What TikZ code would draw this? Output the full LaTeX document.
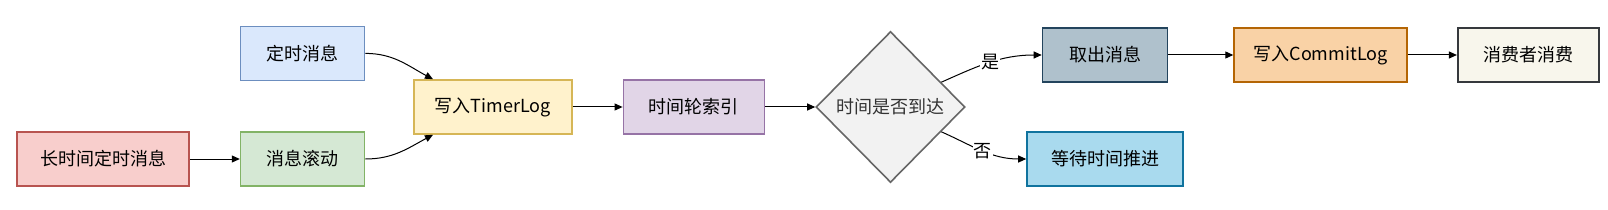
\documentclass[tikz,border=0pt]{standalone}
\usepackage{fontspec}
\setmainfont{Noto Sans CJK SC}
\usepackage{xcolor}
\usepackage{tikz}
\usetikzlibrary{arrows.meta,positioning,shapes.geometric}

\definecolor{redfill}{HTML}{F8CECC}
\definecolor{redline}{HTML}{B85450}
\definecolor{bluefill}{HTML}{DAE8FC}
\definecolor{blueline}{HTML}{6C8EBF}
\definecolor{greenfill}{HTML}{D5E8D4}
\definecolor{greenline}{HTML}{82B366}
\definecolor{yellowfill}{HTML}{FFF2CC}
\definecolor{yellowline}{HTML}{D6B656}
\definecolor{purplefill}{HTML}{E1D5E7}
\definecolor{purpleline}{HTML}{9673A6}
\definecolor{greyfill}{HTML}{F2F2F2}
\definecolor{greyline}{HTML}{666666}
\definecolor{greytext}{HTML}{333333}
\definecolor{slatefill}{HTML}{AFC1CC}
\definecolor{slateline}{HTML}{23445D}
\definecolor{skyfill}{HTML}{A9DAEE}
\definecolor{skyline}{HTML}{10739E}
\definecolor{orangefill}{HTML}{F9D2A6}
\definecolor{orangeline}{HTML}{B46504}
\definecolor{creamfill}{HTML}{F8F6EC}
\definecolor{creamline}{HTML}{36393D}

\begin{document}
\begin{tikzpicture}[x=1pt,y=1pt,
  box/.style={draw,line width=1.6pt,minimum height=54pt,inner sep=0pt,font=\fontsize{18}{21}\selectfont},
  flow/.style={line width=1pt,-{Triangle[length=8pt,width=7pt]}},
  tag/.style={fill=white,inner sep=1pt,font=\fontsize{18}{21}\selectfont}]
\useasboundingbox (0,0) rectangle (1608,209);

\node[box,fill=redfill,draw=redline,minimum width=172pt] (long) at (103,50) {长时间定时消息};
\node[box,fill=greenfill,draw=greenline,minimum width=124pt,right=50pt of long] (roll) {消息滚动};
\node[box,fill=bluefill,draw=blueline,minimum width=124pt,above=50pt of roll] (timed) {定时消息};
\node[box,fill=yellowfill,draw=yellowline,minimum width=158pt,anchor=west] (timerlog) at (413,102) {写入TimerLog};
\node[box,fill=purplefill,draw=purpleline,minimum width=141pt,right=50pt of timerlog] (wheel) {时间轮索引};
\node[diamond,draw=greyline,fill=greyfill,line width=1.6pt,text=greytext,inner sep=0pt,
  minimum width=149pt,minimum height=151pt,font=\fontsize{18}{21}\selectfont,right=50pt of wheel] (due) {时间是否到达};
\node[box,fill=slatefill,draw=slateline,minimum width=125pt] (fetch) at (1105,154) {取出消息};
\node[box,fill=skyfill,draw=skyline,minimum width=156pt] (wait) at (1105,50) {等待时间推进};
\node[box,fill=orangefill,draw=orangeline,minimum width=173pt,right=65pt of fetch] (commitlog) {写入CommitLog};
\node[box,fill=creamfill,draw=creamline,minimum width=141pt,right=49pt of commitlog] (consume) {消费者消费};

\draw[flow] (long)--(roll);
\draw[flow] (timed.east) to[out=0,in=152] ([xshift=20pt]timerlog.north west);
\draw[flow] (roll.east) to[out=0,in=208] ([xshift=20pt]timerlog.south west);
\draw[flow] (timerlog)--(wheel);
\draw[flow] (wheel)--(due);
\draw[flow] (due.26) to[out=24,in=180] node[tag,pos=0.5] {是} (fetch.west);
\draw[flow] (due.-26) to[out=-24,in=180] node[tag,pos=0.5] {否} (wait.west);
\draw[flow] (fetch)--(commitlog);
\draw[flow] (commitlog)--(consume);
\end{tikzpicture}
\end{document}
